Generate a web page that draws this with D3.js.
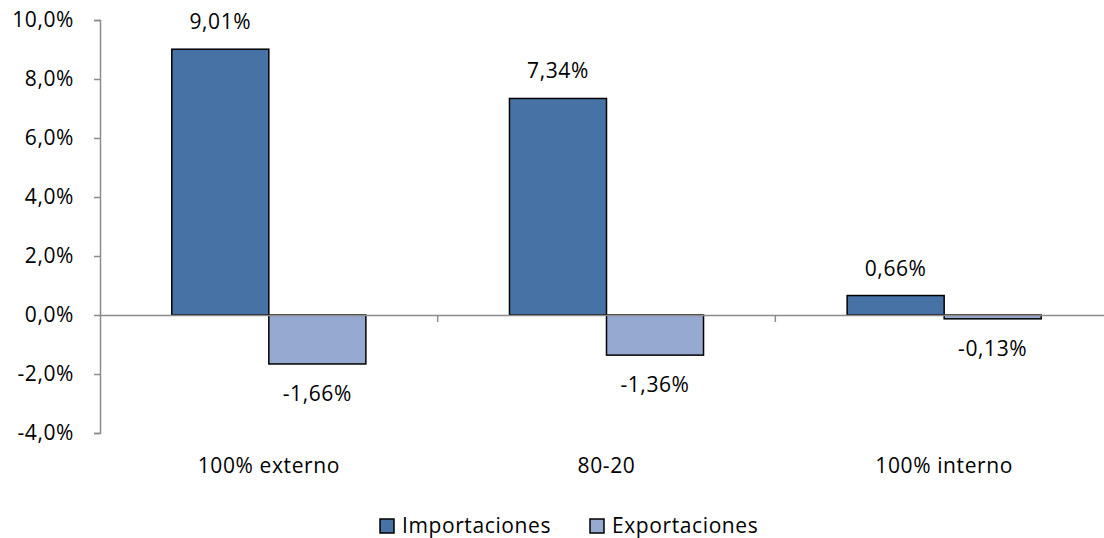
<!DOCTYPE html>
<html><head><meta charset="utf-8">
<script src="https://cdn.jsdelivr.net/npm/d3@7"></script>
<style>body{margin:0;background:#fff}svg{display:block}text{font-family:"Open Sans",sans-serif;fill:#000;letter-spacing:0.6px}</style>
</head><body><svg id="c" width="1104" height="538"></svg>
<script>
const categories = ["100% externo", "80-20", "100% interno"];
const seriesNames = ["Importaciones", "Exportaciones"];
const importaciones = [9.01, 7.34, 0.66];
const exportaciones = [-1.66, -1.36, -0.13];
const yTicks = [-4, -2, 0, 2, 4, 6, 8, 10];
const colors = ["#4672A6", "#95A9D1"];

const FONT = "'Open Sans',sans-serif";
const FS = "21px";
const svg = d3.select("#c");
const fmtTick = v => v.toFixed(1).replace(".", ",") + "%";
const fmtVal = v => v.toFixed(2).replace(".", ",") + "%";

const y = d3.scaleLinear().domain([-4, 10]).range([433, 20]);
const x = d3.scaleBand().domain(categories).range([100, 1113]).paddingInner(0).paddingOuter(0);
const xs = d3.scaleBand().domain(seriesNames).range([0, x.bandwidth()]).paddingInner(0).paddingOuter(0.74);

const gray = "#8c8c8c";
const yAxis = d3.axisLeft(y).tickValues(yTicks).tickFormat(fmtTick).tickSize(6).tickPadding(20);
const gy = svg.append("g").attr("transform", "translate(100,0)").call(yAxis);
gy.select(".domain").attr("stroke", gray).attr("stroke-width", 1.5);
gy.selectAll(".tick line").attr("stroke", gray).attr("stroke-width", 1.5);
gy.selectAll(".tick text").style("font-size", FS).style("font-family", FONT).attr("fill", "#000");

const data = [importaciones, exportaciones];
const g = svg.append("g");
categories.forEach((c, i) => {
  seriesNames.forEach((s, j) => {
    const v = data[j][i];
    const bx = x(c) + xs(s);
    g.append("rect")
      .attr("x", bx).attr("width", xs.bandwidth())
      .attr("y", y(Math.max(0, v))).attr("height", Math.abs(y(v) - y(0)))
      .attr("fill", colors[j]).attr("stroke", "#000").attr("stroke-width", 1.5);
    g.append("text")
      .attr("x", bx + xs.bandwidth() / 2)
      .attr("y", v >= 0 ? y(v) - 20 : y(v) + 37)
      .attr("text-anchor", "middle").style("font-size", FS)
      .text(fmtVal(v));
  });
});

const xAxis = d3.axisBottom(x).tickSize(0).tickFormat("");
const gx = svg.append("g").attr("transform", `translate(0,${y(0)})`).call(xAxis);
gx.select(".domain").attr("stroke", gray).attr("stroke-width", 1.5);
const bounds = categories.map(c => x(c)).concat([x.range()[1]]);
gx.selectAll(".bt").data(bounds.slice(1)).enter().append("line")
  .attr("x1", d => d).attr("x2", d => d).attr("y1", 0).attr("y2", 7)
  .attr("stroke", gray).attr("stroke-width", 1.5);

svg.selectAll(".cat").data(categories).enter().append("text")
  .attr("x", d => x(d) + x.bandwidth() / 2).attr("y", 473)
  .attr("text-anchor", "middle").style("font-size", FS).text(d => d);

const legX = [380, 590];
seriesNames.forEach((s, j) => {
  svg.append("rect").attr("x", legX[j]).attr("y", 519).attr("width", 14).attr("height", 14)
    .attr("fill", colors[j]).attr("stroke", "#000").attr("stroke-width", 1.5);
  svg.append("text").attr("x", legX[j] + 22).attr("y", 533).style("font-size", FS).text(s);
});
</script></body></html>
